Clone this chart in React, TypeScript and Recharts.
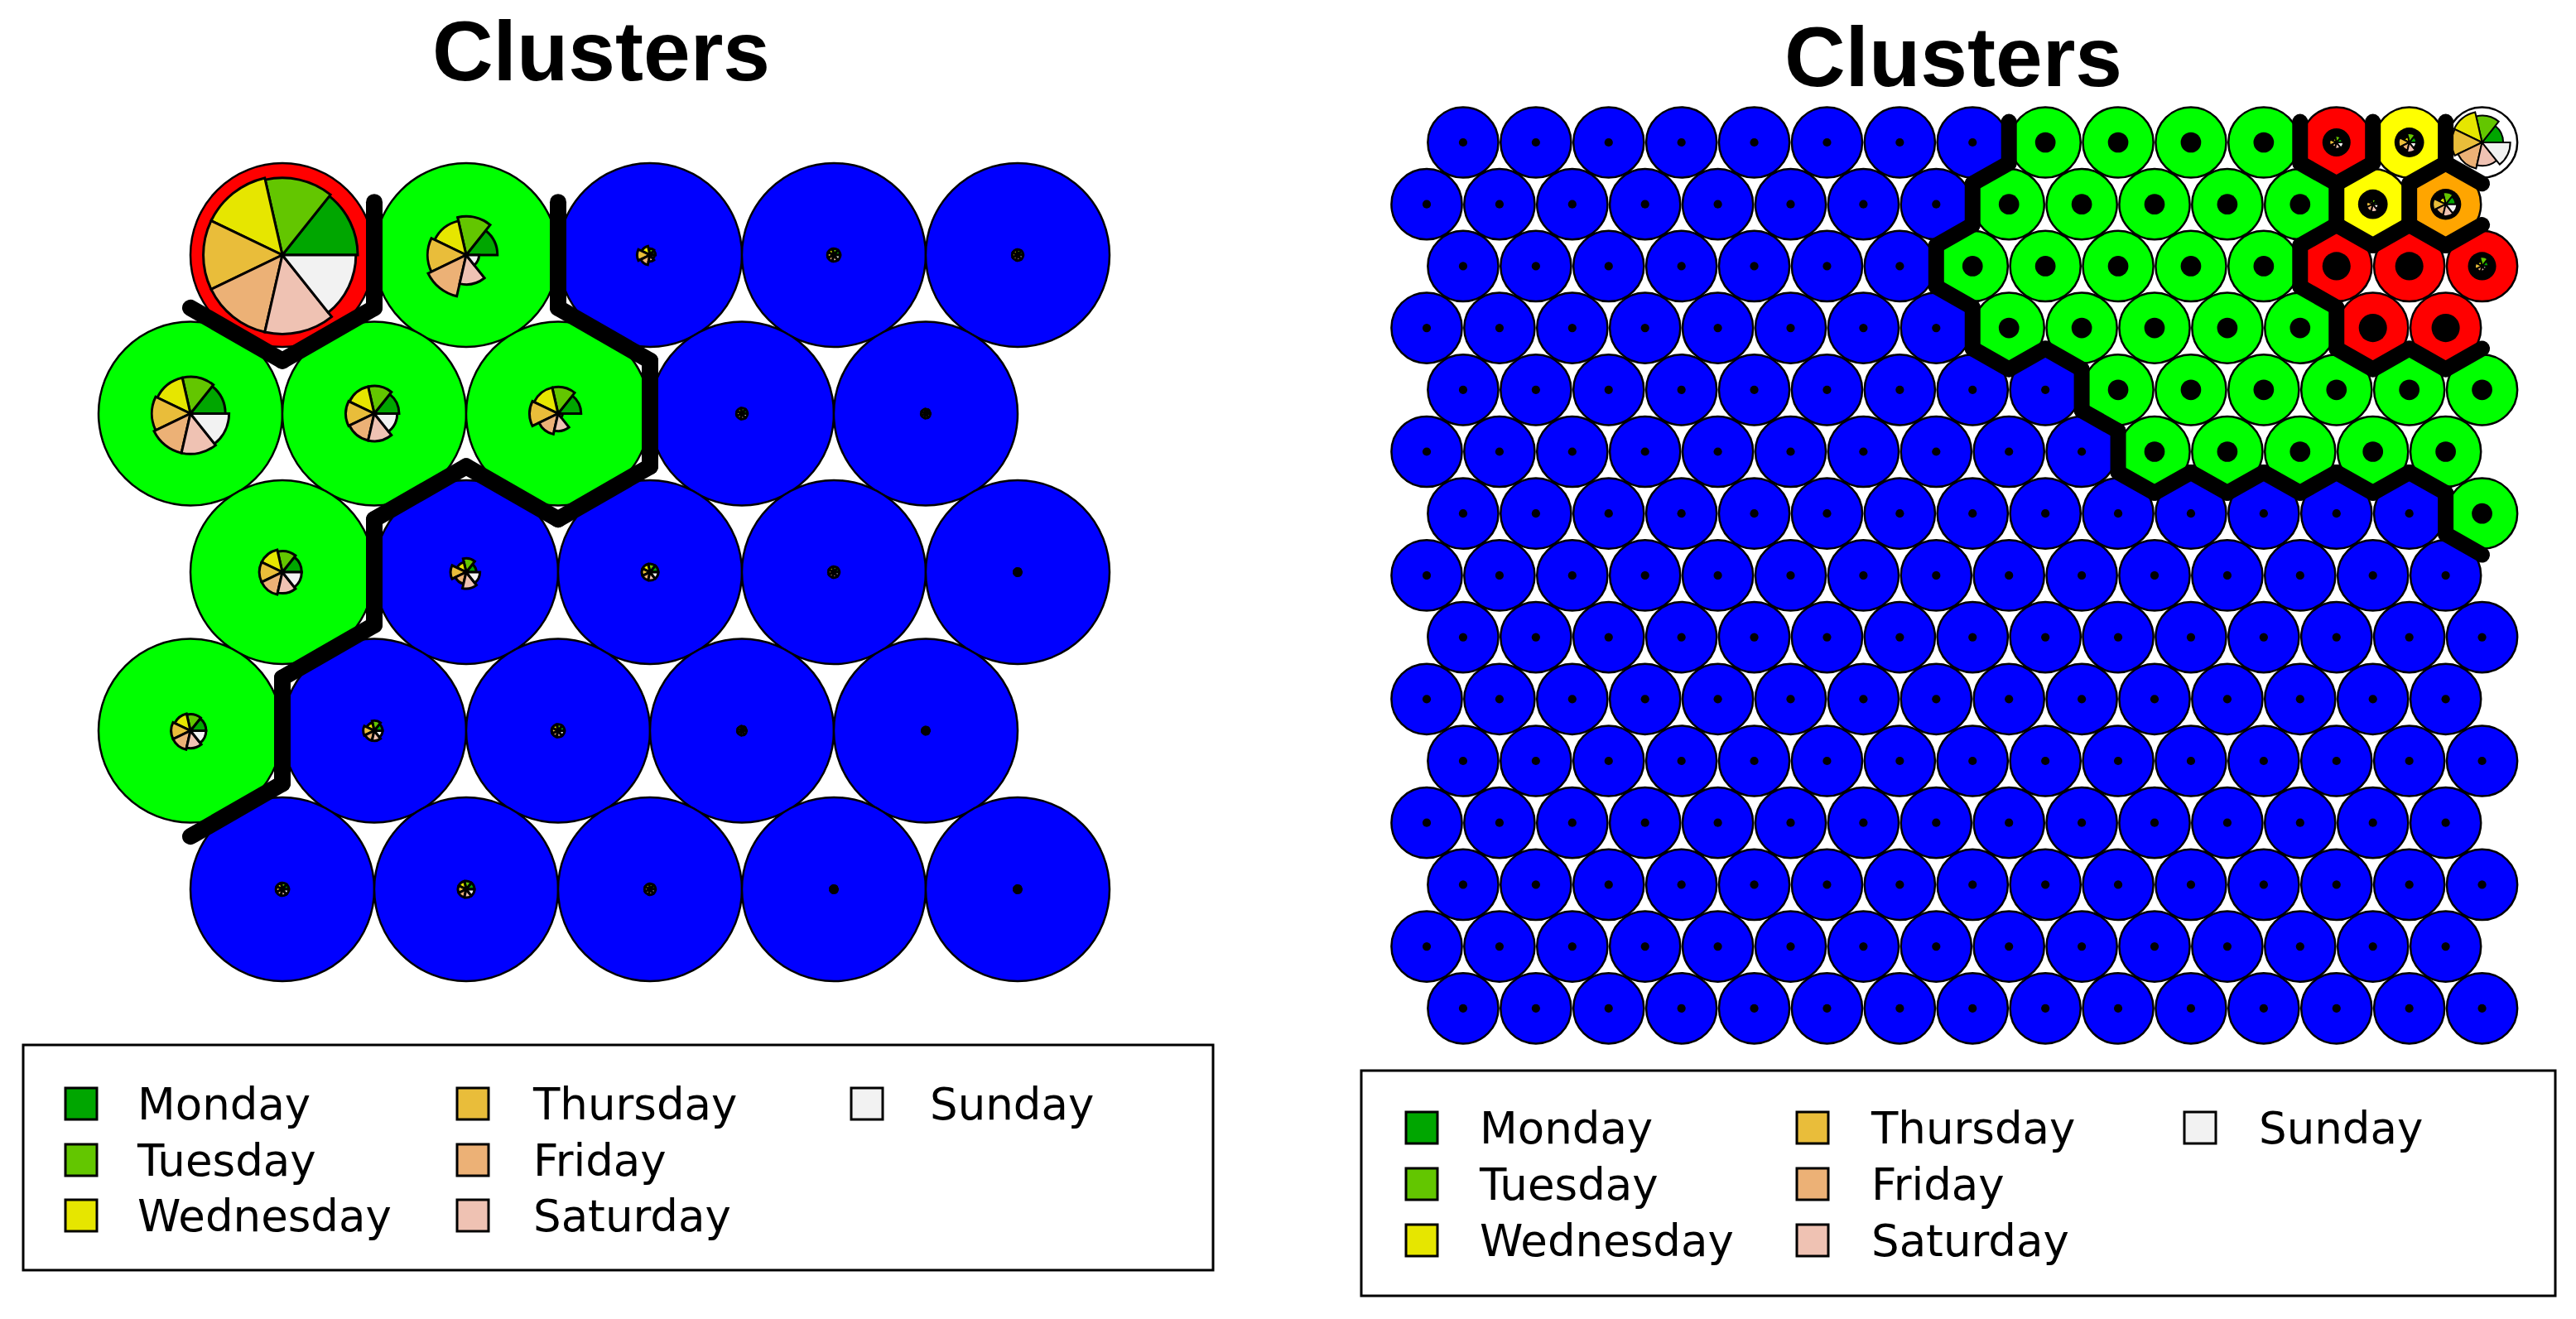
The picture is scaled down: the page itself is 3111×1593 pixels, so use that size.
import { ScatterChart, Scatter, XAxis, YAxis, Sector } from "recharts";

const DAYS = ["Monday", "Tuesday", "Wednesday", "Thursday", "Friday", "Saturday", "Sunday"];
const DAY_COLORS = ["#00A600", "#63C600", "#E6E600", "#E9BD3A", "#ECB176", "#EFC2B3", "#F2F2F2"];

const CLUSTER_FILL: Record<string, string> = {
  b: "#0000FF",
  g: "#00FF00",
  r: "#FF0000",
  y: "#FFFF00",
  o: "#FFA500",
  w: "#FFFFFF",
};

// 5x5 map, top row first
const SMALL_MAP = ["rgbbb", "gggbb", "gbbbb", "gbbbb", "bbbbb"];
// segment radius per cell (share of the cell radius), Mon..Sun
const SMALL_CODES = [
  [0.82, 0.84, 0.86, 0.86, 0.86, 0.86, 0.8],
  [0.34, 0.42, 0.38, 0.42, 0.46, 0.32, 0.14],
  [0.06, 0.07, 0.1, 0.14, 0.11, 0.07, 0.05],
  [0.07, 0.07, 0.07, 0.07, 0.07, 0.07, 0.07],
  [0.06, 0.06, 0.06, 0.06, 0.06, 0.06, 0.06],
  [0.38, 0.4, 0.4, 0.42, 0.44, 0.44, 0.42],
  [0.27, 0.3, 0.3, 0.31, 0.3, 0.3, 0.25],
  [0.25, 0.29, 0.29, 0.31, 0.23, 0.19, 0.05],
  [0.06, 0.06, 0.06, 0.06, 0.06, 0.06, 0.06],
  [0.05, 0.05, 0.05, 0.05, 0.05, 0.05, 0.05],
  [0.21, 0.23, 0.25, 0.25, 0.25, 0.23, 0.21],
  [0.11, 0.15, 0.11, 0.17, 0.13, 0.18, 0.15],
  [0.09, 0.09, 0.09, 0.09, 0.09, 0.09, 0.09],
  [0.06, 0.06, 0.06, 0.06, 0.06, 0.06, 0.06],
  [0.04, 0.04, 0.04, 0.04, 0.04, 0.04, 0.04],
  [0.17, 0.18, 0.19, 0.21, 0.21, 0.19, 0.17],
  [0.09, 0.11, 0.09, 0.12, 0.11, 0.11, 0.09],
  [0.07, 0.07, 0.07, 0.07, 0.07, 0.07, 0.07],
  [0.05, 0.05, 0.05, 0.05, 0.05, 0.05, 0.05],
  [0.04, 0.04, 0.04, 0.04, 0.04, 0.04, 0.04],
  [0.07, 0.07, 0.07, 0.07, 0.07, 0.07, 0.07],
  [0.09, 0.09, 0.09, 0.09, 0.09, 0.09, 0.09],
  [0.06, 0.06, 0.06, 0.06, 0.06, 0.06, 0.06],
  [0.04, 0.04, 0.04, 0.04, 0.04, 0.04, 0.04],
  [0.04, 0.04, 0.04, 0.04, 0.04, 0.04, 0.04],
];

// 15x15 map, top row first
const LARGE_MAP = [
  "bbbbbbbbggggryw",
  "bbbbbbbbgggggyo",
  "bbbbbbbgggggrrr",
  "bbbbbbbbgggggrr",
  "bbbbbbbbbgggggg",
  "bbbbbbbbbbggggg",
  "bbbbbbbbbbbbbbg",
  "bbbbbbbbbbbbbbb",
  "bbbbbbbbbbbbbbb",
  "bbbbbbbbbbbbbbb",
  "bbbbbbbbbbbbbbb",
  "bbbbbbbbbbbbbbb",
  "bbbbbbbbbbbbbbb",
  "bbbbbbbbbbbbbbb",
  "bbbbbbbbbbbbbbb",
];
// dark centre blob per cluster (share of cell radius)
const LARGE_CORE: Record<string, number> = { b: 0.12, g: 0.29, r: 0.4, y: 0.42, o: 0.44, w: 0 };
// cells where the day segments show, Mon..Sun
const LARGE_SEGMENTS: Record<string, number[]> = {
  "0-12": [0.16, 0.18, 0.12, 0.2, 0.14, 0.18, 0.2],
  "0-13": [0.2, 0.26, 0.16, 0.3, 0.22, 0.28, 0.2],
  "0-14": [0.6, 0.76, 0.88, 0.86, 0.76, 0.66, 0.8],
  "1-13": [0.12, 0.14, 0.1, 0.18, 0.2, 0.22, 0.16],
  "1-14": [0.28, 0.34, 0.2, 0.36, 0.3, 0.34, 0.32],
  "2-14": [0.18, 0.26, 0.14, 0.2, 0.16, 0.14, 0.12],
};

const ROW_H = Math.sqrt(3) / 2;
const HEX_R = 1 / Math.sqrt(3);

type Geo = {
  left: number;
  top: number;
  width: number;
  height: number;
  x0: number; // page px of x = 0
  y0: number; // page px of y = 0
  ux: number; // px per x unit
  uy: number; // px per y unit
  radius: number;
  line: number;
};

const LEFT_GEO: Geo = {
  left: 0, top: 120, width: 1560, height: 1130,
  x0: 230, y0: 308, ux: 222, uy: 191.5 / ROW_H, radius: 111, line: 20,
};
const RIGHT_GEO: Geo = {
  left: 1600, top: 110, width: 1511, height: 1170,
  x0: 1723, y0: 172, ux: 87.9, uy: 74.7 / ROW_H, radius: 42.6, line: 19,
};

function buildCells(map: string[], codes: (r: number, c: number) => number[], core: (k: string) => number) {
  const out: any[] = [];
  map.forEach((row, r) => {
    row.split("").forEach((k, c) => {
      out.push({ x: c + (r % 2 === 0 ? 0.5 : 0), y: r * ROW_H, k, seg: codes(r, c), core: core(k) });
    });
  });
  return out;
}

function buildEdges(map: string[]) {
  const out: any[] = [];
  map.forEach((row, r) => {
    row.split("").forEach((k, c) => {
      const x = c + (r % 2 === 0 ? 0.5 : 0);
      const y = r * ROW_H;
      for (const deg of [0, 60, 120]) {
        const a = (deg * Math.PI) / 180;
        const nr = Math.round((y + Math.sin(a)) / ROW_H);
        const nc = Math.round(x + Math.cos(a) - (nr % 2 === 0 ? 0.5 : 0));
        if (nr >= map.length || nc < 0 || nc >= row.length) continue;
        if (map[nr][nc] === k) continue;
        const a1 = a - Math.PI / 6;
        const a2 = a + Math.PI / 6;
        const x1 = x + HEX_R * Math.cos(a1), y1 = y + HEX_R * Math.sin(a1);
        const x2 = x + HEX_R * Math.cos(a2), y2 = y + HEX_R * Math.sin(a2);
        out.push({ x: (x1 + x2) / 2, y: (y1 + y2) / 2, x1, y1, x2, y2 });
      }
    });
  });
  return out;
}

function HexMap({ geo, cells, edges, segStroke }: { geo: Geo; cells: any[]; edges: any[]; segStroke: number }) {
  const xDomain = [(geo.left - geo.x0) / geo.ux, (geo.left + geo.width - geo.x0) / geo.ux];
  const yDomain = [(geo.top - geo.y0) / geo.uy, (geo.top + geo.height - geo.y0) / geo.uy];
  const step = 360 / DAYS.length;

  const renderCell = (props: any) => {
    const { cx, cy, payload } = props;
    const R = geo.radius;
    return (
      <g>
        <circle cx={cx} cy={cy} r={R} fill={CLUSTER_FILL[payload.k]} stroke="#000" strokeWidth={2.5} />
        {payload.core > 0 && <circle cx={cx} cy={cy} r={payload.core * R} fill="#000" />}
        {payload.seg.map((v: number, i: number) =>
          v > 0 ? (
            <Sector
              key={i}
              cx={cx}
              cy={cy}
              innerRadius={0}
              outerRadius={v * R}
              startAngle={i * step}
              endAngle={(i + 1) * step}
              fill={DAY_COLORS[i]}
              stroke="#000"
              strokeWidth={segStroke}
            />
          ) : null
        )}
      </g>
    );
  };

  const renderEdge = (props: any) => {
    const { cx, cy, payload } = props;
    return (
      <line
        x1={cx + (payload.x1 - payload.x) * geo.ux}
        y1={cy + (payload.y1 - payload.y) * geo.uy}
        x2={cx + (payload.x2 - payload.x) * geo.ux}
        y2={cy + (payload.y2 - payload.y) * geo.uy}
        stroke="#000"
        strokeWidth={geo.line}
        strokeLinecap="round"
      />
    );
  };

  return (
    <div style={{ position: "absolute", left: geo.left, top: geo.top }}>
      <ScatterChart width={geo.width} height={geo.height} margin={{ top: 0, right: 0, bottom: 0, left: 0 }}>
        <XAxis type="number" dataKey="x" domain={xDomain} hide allowDataOverflow />
        <YAxis type="number" dataKey="y" domain={yDomain} hide reversed allowDataOverflow />
        <Scatter data={cells} shape={renderCell} isAnimationActive={false} />
        <Scatter data={edges} shape={renderEdge} isAnimationActive={false} />
      </ScatterChart>
    </div>
  );
}

function Legend({ box, sqX, textX, rowsY }: { box: number[]; sqX: number[]; textX: number[]; rowsY: number[] }) {
  const sq = 38;
  return (
    <g>
      <rect x={box[0]} y={box[1]} width={box[2]} height={box[3]} fill="none" stroke="#000" strokeWidth={3} />
      {DAYS.map((d, i) => {
        const col = Math.floor(i / 3);
        const row = i % 3;
        const cy = rowsY[row];
        return (
          <g key={d}>
            <rect x={sqX[col]} y={cy - sq / 2} width={sq} height={sq} fill={DAY_COLORS[i]} stroke="#000" strokeWidth={3} />
            <text x={textX[col]} y={cy + sq / 2} fontFamily="DejaVu Sans" fontSize={53} fill="#000">
              {d}
            </text>
          </g>
        );
      })}
    </g>
  );
}

export default function App() {
  const smallCells = buildCells(SMALL_MAP, (r, c) => SMALL_CODES[r * 5 + c], () => 0);
  const largeCells = buildCells(
    LARGE_MAP,
    (r, c) => LARGE_SEGMENTS[`${r}-${c}`] ?? [],
    (k) => LARGE_CORE[k]
  );

  return (
    <div style={{ position: "absolute", left: 0, top: 0, width: 3111, height: 1593, background: "#fff", overflow: "hidden" }}>
      <HexMap geo={LEFT_GEO} cells={smallCells} edges={buildEdges(SMALL_MAP)} segStroke={3} />
      <HexMap geo={RIGHT_GEO} cells={largeCells} edges={buildEdges(LARGE_MAP)} segStroke={2} />
      <svg width={3111} height={1593} style={{ position: "absolute", left: 0, top: 0, pointerEvents: "none" }}>
        <text x={726} y={97} textAnchor="middle" fontFamily="Liberation Sans" fontWeight="bold" fontSize={102}>
          Clusters
        </text>
        <text x={2359} y={104} textAnchor="middle" fontFamily="Liberation Sans" fontWeight="bold" fontSize={102}>
          Clusters
        </text>
        <Legend box={[28, 1262, 1437, 272]} sqX={[79, 552, 1028]} textX={[166, 644, 1123]} rowsY={[1333, 1401, 1468]} />
        <Legend box={[1644, 1293, 1442, 272]} sqX={[1698, 2170, 2638]} textX={[1787, 2260, 2728]} rowsY={[1362, 1430, 1498]} />
      </svg>
    </div>
  );
}
